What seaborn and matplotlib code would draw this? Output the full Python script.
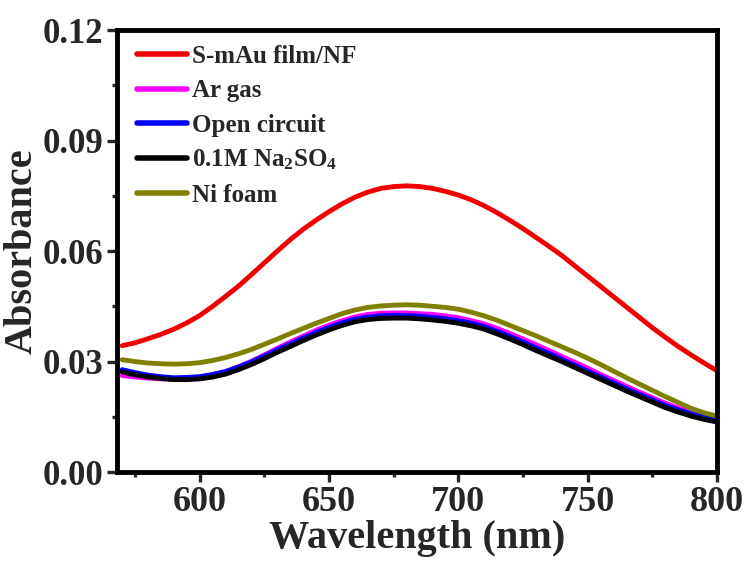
import numpy as np
import pandas as pd
import matplotlib
matplotlib.use("Agg")
import matplotlib.pyplot as plt
import seaborn as sns
from matplotlib.ticker import MultipleLocator

wavelength = [570, 575, 580, 585, 590, 595, 600, 605, 610, 615, 620, 625,
              630, 635, 640, 645, 650, 655, 660, 665, 670, 675, 680, 685,
              690, 695, 700, 705, 710, 715, 720, 725, 730, 735, 740, 745,
              750, 755, 760, 765, 770, 775, 780, 785, 790, 795, 800]

s_mau = [0.0343, 0.0351, 0.0362, 0.0374, 0.0388, 0.0405, 0.0425, 0.0450,
         0.0477, 0.0505, 0.0536, 0.0568, 0.0600, 0.0631, 0.0659, 0.0684,
         0.0707, 0.0728, 0.0746, 0.0760, 0.0770, 0.0775, 0.0777, 0.0775,
         0.0770, 0.0762, 0.0752, 0.0739, 0.0723, 0.0704, 0.0683, 0.0661,
         0.0637, 0.0613, 0.0588, 0.0560, 0.0532, 0.0504, 0.0476, 0.0448,
         0.0420, 0.0392, 0.0366, 0.0341, 0.0318, 0.0296, 0.0275]
ar_gas = [0.0262, 0.0258, 0.0255, 0.0253, 0.0253, 0.0254, 0.0257, 0.0264,
          0.0273, 0.0286, 0.0301, 0.0318, 0.0336, 0.0353, 0.0369, 0.0385,
          0.0399, 0.0411, 0.0421, 0.0428, 0.0431, 0.0432, 0.0432, 0.0430,
          0.0428, 0.0424, 0.0419, 0.0411, 0.0402, 0.0390, 0.0376, 0.0361,
          0.0346, 0.0330, 0.0314, 0.0298, 0.0282, 0.0265, 0.0249, 0.0233,
          0.0217, 0.0202, 0.0187, 0.0174, 0.0162, 0.0153, 0.0146]
open_circuit = [0.0278, 0.0270, 0.0263, 0.0259, 0.0256, 0.0257, 0.0259, 0.0265,
                0.0273, 0.0285, 0.0299, 0.0315, 0.0332, 0.0348, 0.0364, 0.0379,
                0.0393, 0.0405, 0.0415, 0.0421, 0.0424, 0.0425, 0.0425, 0.0423,
                0.0420, 0.0416, 0.0411, 0.0404, 0.0395, 0.0382, 0.0368, 0.0353,
                0.0337, 0.0322, 0.0306, 0.0290, 0.0274, 0.0258, 0.0242, 0.0226,
                0.0211, 0.0196, 0.0181, 0.0169, 0.0158, 0.0149, 0.0142]
na2so4 = [0.0272, 0.0264, 0.0258, 0.0254, 0.0251, 0.0251, 0.0253, 0.0258,
          0.0266, 0.0278, 0.0292, 0.0308, 0.0325, 0.0341, 0.0357, 0.0372,
          0.0386, 0.0398, 0.0408, 0.0414, 0.0417, 0.0418, 0.0418, 0.0416,
          0.0413, 0.0409, 0.0404, 0.0397, 0.0388, 0.0375, 0.0361, 0.0346,
          0.0330, 0.0315, 0.0300, 0.0284, 0.0268, 0.0252, 0.0236, 0.0220,
          0.0205, 0.0190, 0.0175, 0.0163, 0.0152, 0.0143, 0.0136]
ni_foam = [0.0305, 0.0300, 0.0296, 0.0294, 0.0293, 0.0294, 0.0297, 0.0303,
           0.0311, 0.0321, 0.0333, 0.0347, 0.0361, 0.0376, 0.0390, 0.0404,
           0.0417, 0.0430, 0.0440, 0.0447, 0.0451, 0.0453, 0.0454, 0.0453,
           0.0450, 0.0447, 0.0442, 0.0434, 0.0424, 0.0412, 0.0398, 0.0384,
           0.0370, 0.0355, 0.0340, 0.0325, 0.0309, 0.0292, 0.0274, 0.0256,
           0.0239, 0.0222, 0.0205, 0.0189, 0.0173, 0.0161, 0.0152]

labels = ["S-mAu film/NF", "Ar gas", "Open circuit",
          r"0.1M Na$_2$SO$_4$", "Ni foam"]
colors = ["#f20000", "#ff00ff", "#0000ff", "#000000", "#808000"]
series = [s_mau, ar_gas, open_circuit, na2so4, ni_foam]

rows = []
for lab, vals in zip(labels, series):
    for w, v in zip(wavelength, vals):
        rows.append({"Wavelength": w, "Absorbance": v, "Sample": lab})
df = pd.DataFrame(rows)

sns.set_style("white")
plt.rcParams["font.family"] = ["Liberation Serif", "DejaVu Serif"]
plt.rcParams["font.weight"] = "bold"
plt.rcParams["mathtext.fontset"] = "custom"
plt.rcParams["mathtext.rm"] = "Liberation Serif:bold"
plt.rcParams["mathtext.it"] = "Liberation Serif:bold"
plt.rcParams["mathtext.bf"] = "Liberation Serif:bold"

fig = plt.figure(figsize=(7.45, 5.62), dpi=100)
ax = fig.add_axes([0.157, 0.160, 0.8054, 0.7866])

sns.lineplot(data=df, x="Wavelength", y="Absorbance", hue="Sample",
             hue_order=labels, palette=colors, linewidth=3.5, ax=ax,
             legend=True, sort=False)

ax.set_xlim(568, 800)
ax.set_ylim(0, 0.12)
ax.xaxis.set_major_locator(MultipleLocator(50))
ax.xaxis.set_minor_locator(MultipleLocator(25))
ax.yaxis.set_major_locator(MultipleLocator(0.03))
ax.yaxis.set_minor_locator(MultipleLocator(0.015))
ax.set_xticks([600, 650, 700, 750, 800])
ax.set_yticks([0.0, 0.03, 0.06, 0.09, 0.12])
ax.set_yticklabels(["0.00", "0.03", "0.06", "0.09", "0.12"])

for sp in ax.spines.values():
    sp.set_linewidth(3.5)
    sp.set_color("black")

ax.tick_params(axis="x", which="major", labelsize=26)
ax.tick_params(axis="y", which="major", labelsize=25)
ax.tick_params(which="major", direction="out", length=7, width=2.4,
               pad=3, bottom=True, left=True, top=False, right=False)
ax.tick_params(which="minor", direction="out", length=3.5, width=2.4,
               bottom=True, left=True, top=False, right=False)
for t in ax.get_xticklabels() + ax.get_yticklabels():
    t.set_fontweight("bold")

ax.set_xlabel("Wavelength (nm)", fontsize=29, fontweight="bold", labelpad=1)
ax.set_ylabel("Absorbance", fontsize=29, fontweight="bold", labelpad=1)

leg = ax.legend(loc="upper left", frameon=False, fontsize=18,
                handlelength=2.0, handletextpad=0.2, labelspacing=0.45,
                borderaxespad=0.2, bbox_to_anchor=(0.008, 1.0))
for h in leg.get_lines():
    h.set_linewidth(4)
for t in leg.get_texts():
    t.set_fontweight("bold")

fig.savefig("out.png", dpi=100)
